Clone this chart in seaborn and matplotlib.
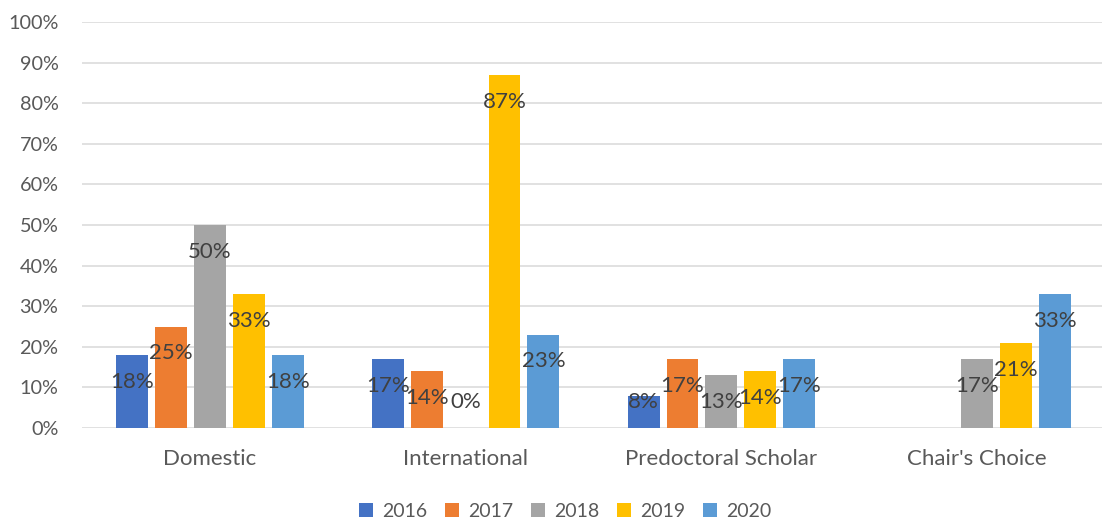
import numpy as np
import pandas as pd
import seaborn as sns
import matplotlib
matplotlib.use("Agg")
import matplotlib.pyplot as plt
from matplotlib.patches import Patch
from matplotlib.ticker import FuncFormatter, MultipleLocator

categories = ["Domestic", "International", "Predoctoral Scholar", "Chair's Choice"]
years = ["2016", "2017", "2018", "2019", "2020"]
v2016 = [18, 17, 8, np.nan]
v2017 = [25, 14, 17, np.nan]
v2018 = [50, 0, 13, 17]
v2019 = [33, 87, 14, 21]
v2020 = [18, 23, 17, 33]
colors = ["#4472C4", "#ED7D31", "#A5A5A5", "#FFC000", "#5B9BD5"]

series = [v2016, v2017, v2018, v2019, v2020]
rows = []
for y, vals in zip(years, series):
    for c, v in zip(categories, vals):
        rows.append({"category": c, "year": y, "value": v})
df = pd.DataFrame(rows)

sns.set_theme(style="white")
plt.rcParams["font.family"] = ["Lato", "DejaVu Sans"]

fig = plt.figure(figsize=(11.02, 5.23), dpi=100)
ax = fig.add_axes([0.0744, 0.1816, 0.9283, 0.7764])

sns.barplot(data=df, x="category", y="value", hue="year", hue_order=years,
            order=categories, palette=colors, width=0.76, gap=0.18,
            saturation=1, errorbar=None, legend=False, linewidth=0, ax=ax)

ax.set_ylim(0, 100)
ax.yaxis.set_major_locator(MultipleLocator(10))
ax.yaxis.set_major_formatter(FuncFormatter(lambda v, p: f"{v:.0f}%"))
ax.grid(axis="y", color="#D9D9D9", linewidth=1.1)
ax.set_axisbelow(True)
for s in ax.spines.values():
    s.set_visible(False)
ax.tick_params(axis="both", length=0, labelcolor="#595959")
ax.tick_params(axis="y", pad=17, labelsize=14.3)
ax.tick_params(axis="x", pad=15, labelsize=16)
ax.set_xlabel("")
ax.set_ylabel("")
ax.set_xlim(-0.5, 3.5)

for cont in ax.containers:
    for bar in cont:
        h = bar.get_height()
        if h is None or np.isnan(h):
            continue
        ypos = max(h - 6.6, 6.4)
        ax.text(bar.get_x() + bar.get_width() / 2, ypos, f"{h:.0f}%",
                ha="center", va="center", fontsize=16, color="#404040")

handles = [Patch(facecolor=c, edgecolor="none") for c in colors]
fig.legend(handles, years, loc="center", bbox_to_anchor=(0.513, 0.022),
           ncol=5, frameon=False, fontsize=14, labelcolor="#595959",
           handlelength=0.7, handleheight=0.7, handletextpad=0.5,
           columnspacing=0.9)

fig.savefig("out.png", dpi=100)
